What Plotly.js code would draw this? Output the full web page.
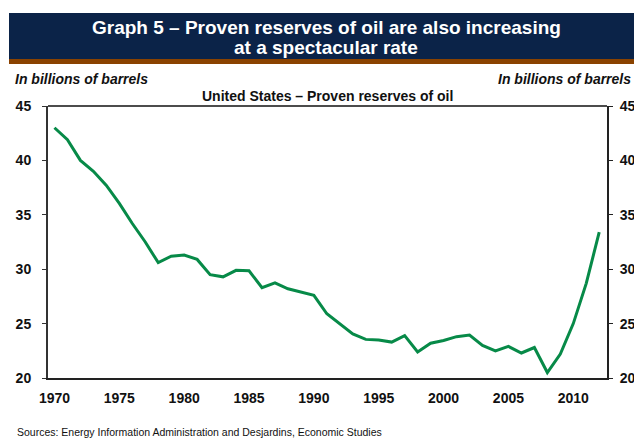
<!DOCTYPE html>
<html>
<head>
<meta charset="utf-8">
<script src="https://cdn.plot.ly/plotly-3.0.1.min.js"></script>
<style>html,body{margin:0;padding:0;background:#fff;}#chart{width:634px;height:440px;}</style>
</head>
<body>
<div id="chart"></div>
<script>
const years = [1970,1971,1972,1973,1974,1975,1976,1977,1978,1979,1980,1981,1982,1983,1984,1985,1986,1987,1988,1989,1990,1991,1992,1993,1994,1995,1996,1997,1998,1999,2000,2001,2002,2003,2004,2005,2006,2007,2008,2009,2010,2011,2012];
const reserves = [43.0,41.9,40.0,39.0,37.7,36.05,34.2,32.5,30.6,31.2,31.3,30.9,29.5,29.3,29.9,29.85,28.3,28.75,28.2,27.9,27.6,25.9,25.0,24.05,23.55,23.5,23.3,23.9,22.4,23.2,23.45,23.8,23.95,23.0,22.5,22.9,22.3,22.8,20.5,22.2,25.0,28.7,33.4];
const yTicks = [20,25,30,35,40,45];
const xTicks = [1970,1975,1980,1985,1990,1995,2000,2005,2010];

const titleLine1 = "Graph 5 – Proven reserves of oil are also increasing";
const titleLine2 = "at a spectacular rate";
const unitLabel = "In billions of barrels";
const chartTitle = "United States – Proven reserves of oil";
const sourceText = "Sources: Energy Information Administration and Desjardins, Economic Studies";

const W = 634, H = 440;
const L = 48, R = 27, T = 106, B = 62;
const pw = W - L - R, ph = H - T - B;
const px = x => (x - L) / pw;
const py = y => (H - B - y) / ph;

const FAM = "Liberation Sans, Arial, sans-serif";
const tickFont = {family: FAM, size: 14, color: "#111", weight: "bold"};

const traces = [{
  x: years, y: reserves, type: "scatter", mode: "lines",
  line: {color: "#078a48", width: 3}, hoverinfo: "skip", showlegend: false
},{
  x: years, y: reserves, type: "scatter", mode: "lines", yaxis: "y2",
  line: {color: "rgba(0,0,0,0)", width: 0}, hoverinfo: "skip", showlegend: false
}];

const layout = {
  width: W, height: H,
  margin: {l: L, r: R, t: T, b: B, pad: 0},
  paper_bgcolor: "#fff", plot_bgcolor: "#fff",
  font: {family: FAM},
  xaxis: {
    range: [1969.5, 2012.6], tickvals: xTicks, ticktext: xTicks.map(String),
    showgrid: false, zeroline: false, showline: true, linecolor: "#222", linewidth: 2,
    mirror: false, ticks: "", tickfont: tickFont, ticklabelstandoff: 6
  },
  yaxis: {
    range: [20, 45], tickvals: yTicks, showgrid: false, zeroline: false,
    showline: true, linecolor: "#333", linewidth: 2, ticks: "outside", ticklen: 4,
    tickcolor: "#333", tickwidth: 1, tickfont: tickFont, ticklabelstandoff: 8
  },
  yaxis2: {
    range: [20, 45], tickvals: yTicks, overlaying: "y", side: "right",
    showgrid: false, zeroline: false, showline: true, linecolor: "#222", linewidth: 2,
    ticks: "outside", ticklen: 4, tickcolor: "#222", tickwidth: 1, tickfont: tickFont,
    ticklabelstandoff: 4
  },
  shapes: [
    {type: "rect", xref: "paper", yref: "paper", x0: px(9), x1: px(634), y0: py(59), y1: py(13),
     fillcolor: "#0b2348", line: {width: 0}, layer: "below"},
    {type: "rect", xref: "paper", yref: "paper", x0: px(9), x1: px(634), y0: py(64), y1: py(59),
     fillcolor: "#8a4200", line: {width: 0}, layer: "below"},
    {type: "line", xref: "paper", yref: "paper", x0: 0, x1: 1, y0: 1, y1: 1,
     line: {color: "#111", width: 1.5}}
  ],
  annotations: [
    {xref: "paper", yref: "paper", x: px(326), y: py(28), text: "<b>" + titleLine1 + "</b>",
     showarrow: false, xanchor: "center", yanchor: "middle",
     font: {size: 19, color: "#fff", family: FAM}},
    {xref: "paper", yref: "paper", x: px(326), y: py(47), text: "<b>" + titleLine2 + "</b>",
     showarrow: false, xanchor: "center", yanchor: "middle",
     font: {size: 19, color: "#fff", family: FAM}},
    {xref: "paper", yref: "paper", x: px(13), y: py(79), text: "<b><i>" + unitLabel + "</i></b>",
     showarrow: false, xanchor: "left", yanchor: "middle",
     font: {size: 14, color: "#111", family: FAM}},
    {xref: "paper", yref: "paper", x: px(633), y: py(79), text: "<b><i>" + unitLabel + "</i></b>",
     showarrow: false, xanchor: "right", yanchor: "middle",
     font: {size: 14, color: "#111", family: FAM}},
    {xref: "paper", yref: "paper", x: px(327), y: py(96), text: "<b>" + chartTitle + "</b>",
     showarrow: false, xanchor: "center", yanchor: "middle",
     font: {size: 14, color: "#111", family: FAM}},
    {xref: "paper", yref: "paper", x: px(15), y: py(424), text: sourceText,
     showarrow: false, xanchor: "left", yanchor: "top",
     font: {size: 10.5, color: "#111", family: FAM}}
  ]
};

Plotly.newPlot("chart", traces, layout, {displayModeBar: false, staticPlot: true});
</script>
</body>
</html>
